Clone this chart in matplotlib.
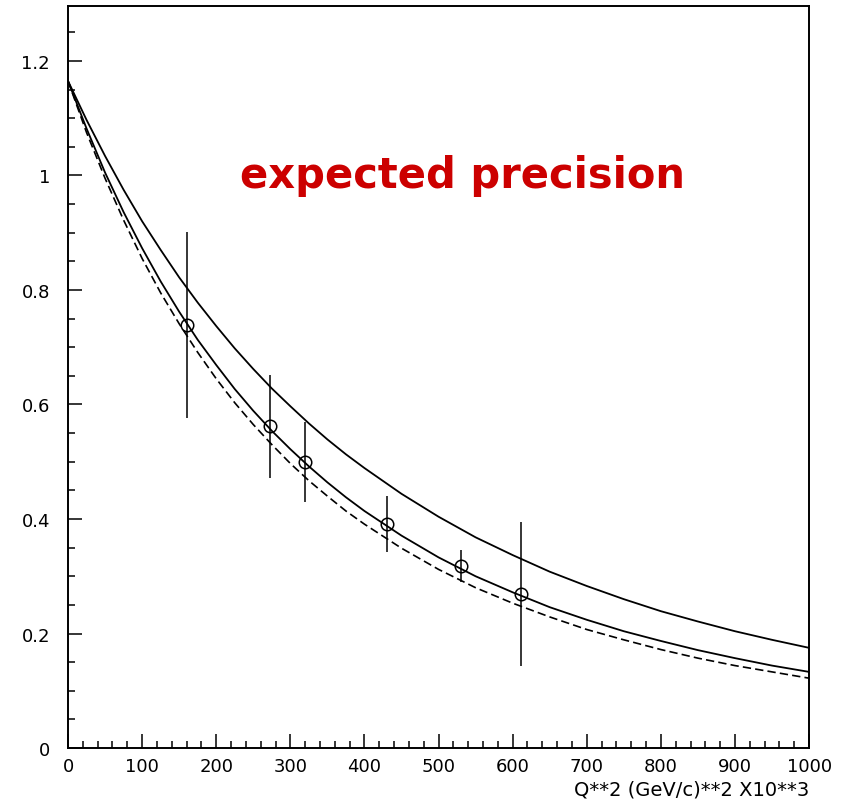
import matplotlib
matplotlib.use("Agg")
import matplotlib.pyplot as plt
from matplotlib.ticker import MultipleLocator, FuncFormatter

# Q^2 grid (x 10^3 (GeV/c)^2) and the three form factor curves
q2_grid = [0, 25, 50, 75, 100, 125, 150, 175, 200, 225, 250, 275, 300, 325, 350, 375, 400,
           450, 500, 550, 600, 650, 700, 750, 800, 850, 900, 950, 1000]
ff_upper = [1.165, 1.097, 1.034, 0.975, 0.920, 0.870, 0.822, 0.778, 0.737, 0.698, 0.662, 0.628,
            0.597, 0.567, 0.539, 0.513, 0.489,
            0.444, 0.404, 0.368, 0.337, 0.308, 0.283, 0.260, 0.239, 0.221, 0.204, 0.189, 0.175]
ff_fit = [1.165, 1.082, 1.005, 0.936, 0.873, 0.815, 0.762, 0.713, 0.669, 0.627, 0.589, 0.554,
          0.522, 0.492, 0.464, 0.438, 0.414,
          0.371, 0.333, 0.300, 0.272, 0.246, 0.224, 0.204, 0.187, 0.171, 0.157, 0.144, 0.133]
ff_lower = [1.165, 1.075, 0.995, 0.922, 0.855, 0.795, 0.741, 0.691, 0.645, 0.603, 0.565, 0.530,
            0.497, 0.467, 0.440, 0.414, 0.391,
            0.349, 0.312, 0.280, 0.253, 0.229, 0.207, 0.189, 0.172, 0.157, 0.144, 0.133, 0.122]

# projected measurements with their errors
q2_meas = [161, 272, 320, 431, 530, 611]
ff_meas = [0.739, 0.562, 0.500, 0.391, 0.318, 0.269]
ff_err = [0.163, 0.090, 0.070, 0.049, 0.028, 0.126]

title = "expected precision"
xlabel = "Q**2 (GeV/c)**2 X10**3"


def main():
  fig = plt.figure(figsize=(8.45, 8.03), dpi=100)
  ax = fig.add_axes([0.0805, 0.0672, 0.877, 0.9241])
  ax.plot(q2_grid, ff_upper, color='black', lw=1.3)
  ax.plot(q2_grid, ff_fit, color='black', lw=1.3)
  ax.plot(q2_grid, ff_lower, color='black', lw=1.2, dashes=(5, 2.5))
  ax.errorbar(q2_meas, ff_meas, yerr=ff_err, fmt='o', ms=9, mfc='none', mec='black',
              mew=1.1, ecolor='black', elinewidth=1.1, capsize=0)
#
  ax.set_xlim(0, 1000)
  ax.set_ylim(0, 1.296)
  ax.xaxis.set_major_locator(MultipleLocator(100))
  ax.xaxis.set_minor_locator(MultipleLocator(20))
  ax.yaxis.set_major_locator(MultipleLocator(0.2))
  ax.yaxis.set_minor_locator(MultipleLocator(0.05))
  ax.yaxis.set_major_formatter(FuncFormatter(lambda v, p: "%g" % round(v, 2)))
  ax.tick_params(which='both', direction='in', top=False, right=False, width=1.1, colors='black')
  ax.tick_params(which='major', length=10, labelsize=13)
  ax.tick_params(which='minor', length=5)
  ax.tick_params(axis='x', which='major', pad=6.5)
  ax.tick_params(axis='y', which='major', pad=13)
  for s in ax.spines.values():
    s.set_linewidth(1.4)
#
  ax.text(532, 0.98, title, color='#cc0000', fontsize=30, fontweight='bold',
          ha='center', va='baseline')
  ax.set_xlabel(xlabel, loc='right', fontsize=14, labelpad=3)
  fig.savefig("out.png", dpi=100)


if __name__ == "__main__":
    main()
